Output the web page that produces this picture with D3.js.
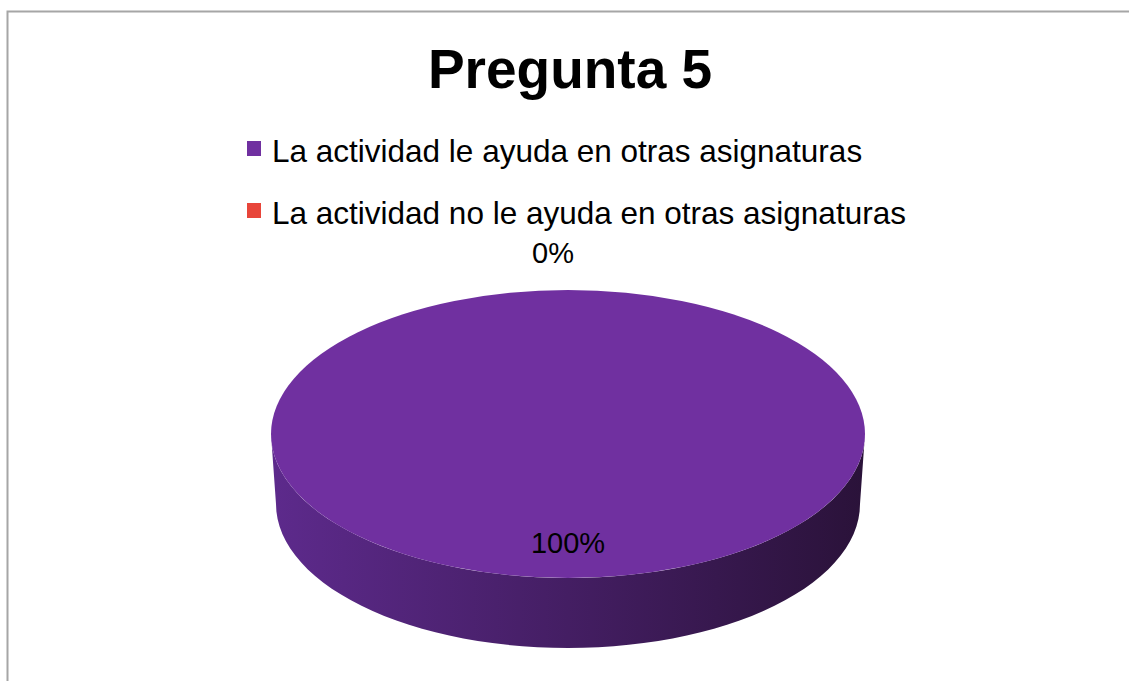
<!DOCTYPE html>
<html lang="es">
<head>
<meta charset="utf-8" />
<title>Pregunta 5</title>
<script src="https://d3js.org/d3.v7.min.js"></script>
<style>
  body { margin: 0; background: #fff; }
  text { font-family: "Liberation Sans", Arial, sans-serif; fill: #000; }
</style>
</head>
<body>
<div id="chart"></div>
<script>
// data
var categories = ["La actividad le ayuda en otras asignaturas",
                  "La actividad no le ayuda en otras asignaturas"];
var values = [100, 0];
var labels = ["100%", "0%"];
var colors = ["#7030a0", "#e8453a"];
var title = "Pregunta 5";

var width = 1129, height = 681;
var cx = 568, cy = 434;     // centre of the top face
var rx = 297, ry = 144;     // ellipse radii of the top
var depth = 70;             // thickness of the pie
var rxBottom = 292;

var svg = d3.select("#chart").append("svg")
  .attr("width", width)
  .attr("height", height);

// frame
svg.append("rect")
  .attr("x", 7.5).attr("y", 11.5)
  .attr("width", width + 20).attr("height", height + 20)
  .attr("fill", "#fff")
  .attr("stroke", "#a6a6a6")
  .attr("stroke-width", 2);

// title
svg.append("text")
  .attr("x", 570).attr("y", 88)
  .attr("text-anchor", "middle")
  .style("font-size", "55px")
  .style("font-weight", "bold")
  .text(title);

// legend
var legend = svg.selectAll(".legend")
  .data(categories)
  .enter().append("g")
  .attr("class", "legend")
  .attr("transform", function(d, i) { return "translate(247," + (141 + i * 62) + ")"; });

legend.append("rect")
  .attr("width", 14).attr("height", 15)
  .attr("fill", function(d, i) { return colors[i]; });

legend.append("text")
  .attr("x", 25).attr("y", 21)
  .style("font-size", "31.5px")
  .text(function(d) { return d; });

// pie
var pie = d3.pie().sort(null).startAngle(0).endAngle(2 * Math.PI);
var arcs = pie(values);

// gradient for the side wall
var defs = svg.append("defs");
var grad = defs.append("linearGradient")
  .attr("id", "side")
  .attr("gradientUnits", "userSpaceOnUse")
  .attr("x1", cx - rx).attr("x2", cx + rx)
  .attr("y1", 0).attr("y2", 0);
grad.append("stop").attr("offset", "0%").attr("stop-color", "#5d2a8c");
grad.append("stop").attr("offset", "50%").attr("stop-color", "#441e63");
grad.append("stop").attr("offset", "100%").attr("stop-color", "#2a1239");

// side wall, only the front half (angles pi/2 .. 3pi/2) is visible
var line = d3.line();
arcs.forEach(function(a, i) {
  var a0 = Math.max(a.startAngle, Math.PI / 2);
  var a1 = Math.min(a.endAngle, 3 * Math.PI / 2);
  if (a1 <= a0) return;
  var steps = d3.range(0, 61).map(function(k) { return a0 + (a1 - a0) * k / 60; });
  var top = steps.map(function(t) { return [cx + rx * Math.sin(t), cy - ry * Math.cos(t)]; });
  var bottom = steps.slice().reverse().map(function(t) {
    return [cx + rxBottom * Math.sin(t), cy + depth - ry * Math.cos(t)];
  });
  svg.append("path")
    .attr("d", line(top.concat(bottom)) + "Z")
    .attr("fill", i === 0 ? "url(#side)" : d3.color(colors[i]).darker(1));
});

// top face
var arc = d3.arc().innerRadius(0).outerRadius(rx);
svg.append("g")
  .attr("transform", "translate(" + cx + "," + cy + ") scale(1," + (ry / rx) + ")")
  .selectAll("path")
  .data(arcs)
  .enter().append("path")
  .attr("d", arc)
  .attr("fill", function(d, i) { return colors[i]; });

// data labels
svg.selectAll(".lbl")
  .data(arcs)
  .enter().append("text")
  .attr("class", "lbl")
  .attr("text-anchor", "middle")
  .style("font-size", "29px")
  .attr("x", function(d) {
    var m = (d.startAngle + d.endAngle) / 2;
    return d.value > 0 ? cx + 0.75 * rx * Math.sin(m) : cx - 15;
  })
  .attr("y", function(d) {
    var m = (d.startAngle + d.endAngle) / 2;
    return d.value > 0 ? cy - 0.75 * ry * Math.cos(m) + 11 : cy - ry - 27;
  })
  .text(function(d, i) { return labels[i]; });
</script>
</body>
</html>
